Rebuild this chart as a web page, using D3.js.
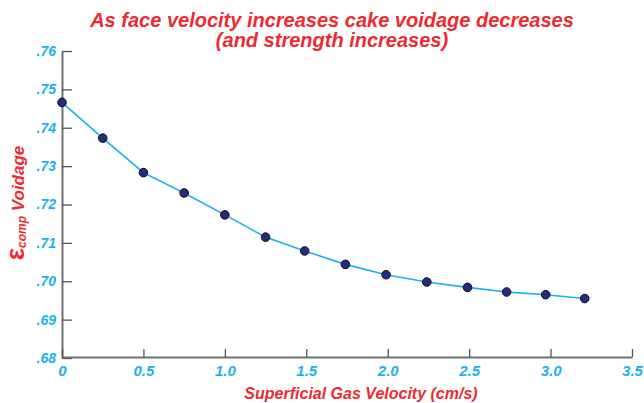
<!DOCTYPE html>
<html>
<head>
<meta charset="utf-8">
<title>Cake voidage</title>
<script src="https://d3js.org/d3.v7.min.js"></script>
<style>
html,body{margin:0;padding:0;background:#fff;}
svg text{font-family:"Liberation Sans",Arial,sans-serif;font-weight:bold;font-style:italic;}
</style>
</head>
<body>
<script>
// data
var velocity=[0,0.25,0.5,0.75,1.0,1.25,1.49,1.74,1.99,2.24,2.49,2.73,2.97,3.21];
var voidage=[0.7466,0.7373,0.7283,0.7230,0.7173,0.7115,0.7079,0.7044,0.7017,0.6998,0.6984,0.6972,0.6965,0.6955];
var xTicks=[0,0.5,1.0,1.5,2.0,2.5,3.0,3.5];
var yTicks=[0.68,0.69,0.70,0.71,0.72,0.73,0.74,0.75,0.76];

var W=644,H=403;
var red="#ee2a30",blue="#19b2ec";

var svg=d3.select("body").append("svg")
	.attr("width",W)
	.attr("height",H);

var x=d3.scaleLinear().domain([0,3.5]).range([62,632]);
var y=d3.scaleLinear().domain([0.68,0.76]).range([358,51]);

// y axis
var yAxis=d3.axisRight(y)
	.tickValues(yTicks)
	.tickSize(10)
	.tickSizeOuter(0)
	.tickFormat(d=>d3.format(".2f")(d).replace(/^0/,""));
var gy=svg.append("g")
	.attr("transform","translate(62,0)")
	.call(yAxis);
gy.select(".domain").attr("stroke","#707070").attr("stroke-width",2);
gy.selectAll(".tick line").attr("stroke","#555").attr("stroke-width",1.3);
gy.selectAll(".tick text")
	.attr("x",-6)
	.attr("text-anchor","end")
	.attr("fill",blue)
	.style("font-size","14px");

// x axis
var xAxis=d3.axisTop(x)
	.tickValues(xTicks)
	.tickSize(8)
	.tickSizeOuter(0)
	.tickFormat(d=>d===0?"0":d3.format(".1f")(d));
var gx=svg.append("g")
	.attr("transform","translate(0,357)")
	.call(xAxis);
gx.select(".domain").attr("stroke","#707070").attr("stroke-width",2);
gx.selectAll(".tick line").attr("stroke","#555").attr("stroke-width",1.3);
gx.selectAll(".tick text")
	.attr("y",19)
	.attr("fill",blue)
	.style("font-size","15px");

// line + points
var pts=velocity.map((v,i)=>[v,voidage[i]]);
svg.append("path")
	.datum(pts)
	.attr("fill","none")
	.attr("stroke",blue)
	.attr("stroke-width",1.6)
	.attr("d",d3.line().x(d=>x(d[0])).y(d=>y(d[1])));

svg.selectAll("circle")
	.data(pts)
	.enter()
	.append("circle")
	.attr("cx",d=>x(d[0]))
	.attr("cy",d=>y(d[1]))
	.attr("r",4.3)
	.attr("fill","#262a80")
	.attr("stroke","#111")
	.attr("stroke-width",1);

// title
var title=svg.append("text")
	.attr("text-anchor","middle")
	.attr("fill",red)
	.style("font-size","20px");
title.append("tspan").attr("x",332).attr("y",27).text("As face velocity increases cake voidage decreases");
title.append("tspan").attr("x",332).attr("y",47).text("(and strength increases)");

// x title
svg.append("text")
	.attr("x",361)
	.attr("y",399)
	.attr("text-anchor","middle")
	.attr("fill",red)
	.style("font-size","16px")
	.text("Superficial Gas Velocity (cm/s)");

// y title
var yt=svg.append("text")
	.attr("transform","translate(24,203) rotate(-90)")
	.attr("text-anchor","middle")
	.attr("fill",red);
yt.append("tspan").style("font-size","26px").style("font-style","normal").text("\u03b5");
yt.append("tspan").attr("dy",2).style("font-size","12px").text("comp");
yt.append("tspan").attr("dy",-2).style("font-size","17px").text("\u00a0Voidage");
</script>
</body>
</html>
